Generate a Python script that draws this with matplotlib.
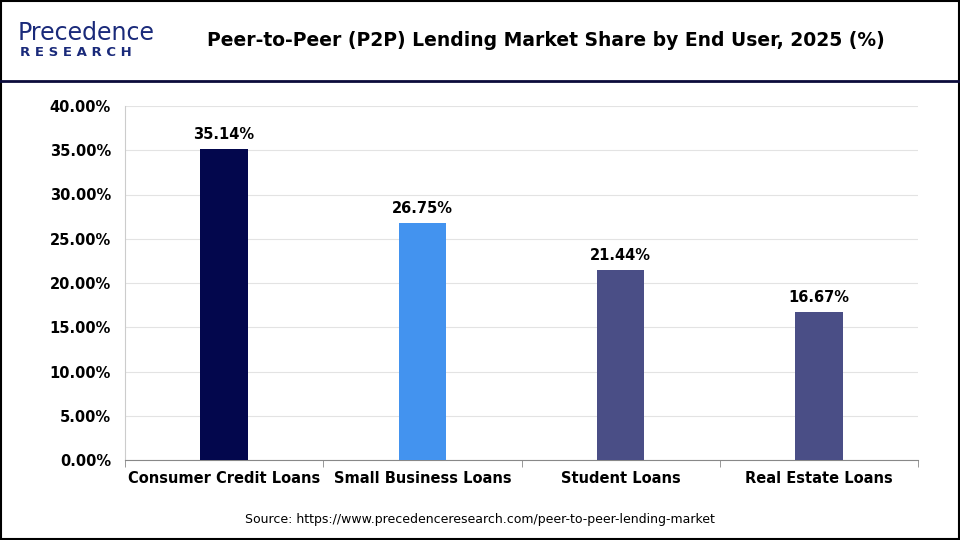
import matplotlib.pyplot as plt
from matplotlib.patches import Rectangle
from matplotlib.lines import Line2D

categories = ["Consumer Credit Loans", "Small Business Loans", "Student Loans", "Real Estate Loans"]
values = [35.14, 26.75, 21.44, 16.67]
colors = ["#03074d", "#4393ef", "#4a4e86", "#4a4e86"]
yticks = [0, 5, 10, 15, 20, 25, 30, 35, 40]

fig = plt.figure(figsize=(9.6, 5.4), dpi=100)
W, H = 960, 540
ax = fig.add_axes([125 / W, 1 - 460 / H, 793 / W, 354 / H])

ax.bar(range(len(categories)), values, width=0.24, color=colors, zorder=3)
for i, v in enumerate(values):
    ax.text(i, v + 0.8, f"{v:.2f}%", ha="center", va="bottom", fontsize=10.5, fontweight="bold")

ax.set_xlim(-0.5, len(categories) - 0.5)
ax.set_ylim(0, 40)
ax.set_yticks(yticks)
ax.set_yticklabels([f"{t:.2f}%" for t in yticks], fontsize=10.5, fontweight="bold")
ax.set_xticks(range(len(categories)))
ax.set_xticklabels(categories, fontsize=10.5, fontweight="bold")
ax.grid(axis="y", color="#e3e3e3", linewidth=0.8, zorder=0)
for s in ["top", "right"]:
    ax.spines[s].set_visible(False)
ax.spines["left"].set_color("#cccccc")
ax.spines["bottom"].set_color("#888888")
ax.tick_params(axis="y", length=0, pad=10)
ax.set_xticks([-0.5, 0.5, 1.5, 2.5, 3.5], minor=True)
ax.tick_params(axis="x", which="major", length=0, pad=8)
ax.tick_params(axis="x", which="minor", length=5, color="#888888")

# frame and header
fig.patches.append(Rectangle((1 / W, 1 / H), 958 / W, 538 / H, transform=fig.transFigure,
                             fill=False, edgecolor="black", linewidth=1.5))
fig.lines.append(Line2D([0, 1], [1 - 81 / H] * 2, transform=fig.transFigure, color="#0b0b3b", linewidth=2))

fig.text(546 / W, 1 - 40 / H, "Peer-to-Peer (P2P) Lending Market Share by End User, 2025 (%)",
         ha="center", va="center", fontsize=13.5, fontweight="bold")
fig.text(18 / W, 1 - 33 / H, "Precedence", ha="left", va="center", fontsize=17, color="#1a2a7a")
fig.text(20 / W, 1 - 53 / H, "R E S E A R C H", ha="left", va="center", fontsize=9.5,
         fontweight="bold", color="#1a2a7a")
fig.text(480 / W, 1 - 520 / H, "Source: https://www.precedenceresearch.com/peer-to-peer-lending-market",
         ha="center", va="center", fontsize=9)

fig.savefig("out.png", dpi=100)
